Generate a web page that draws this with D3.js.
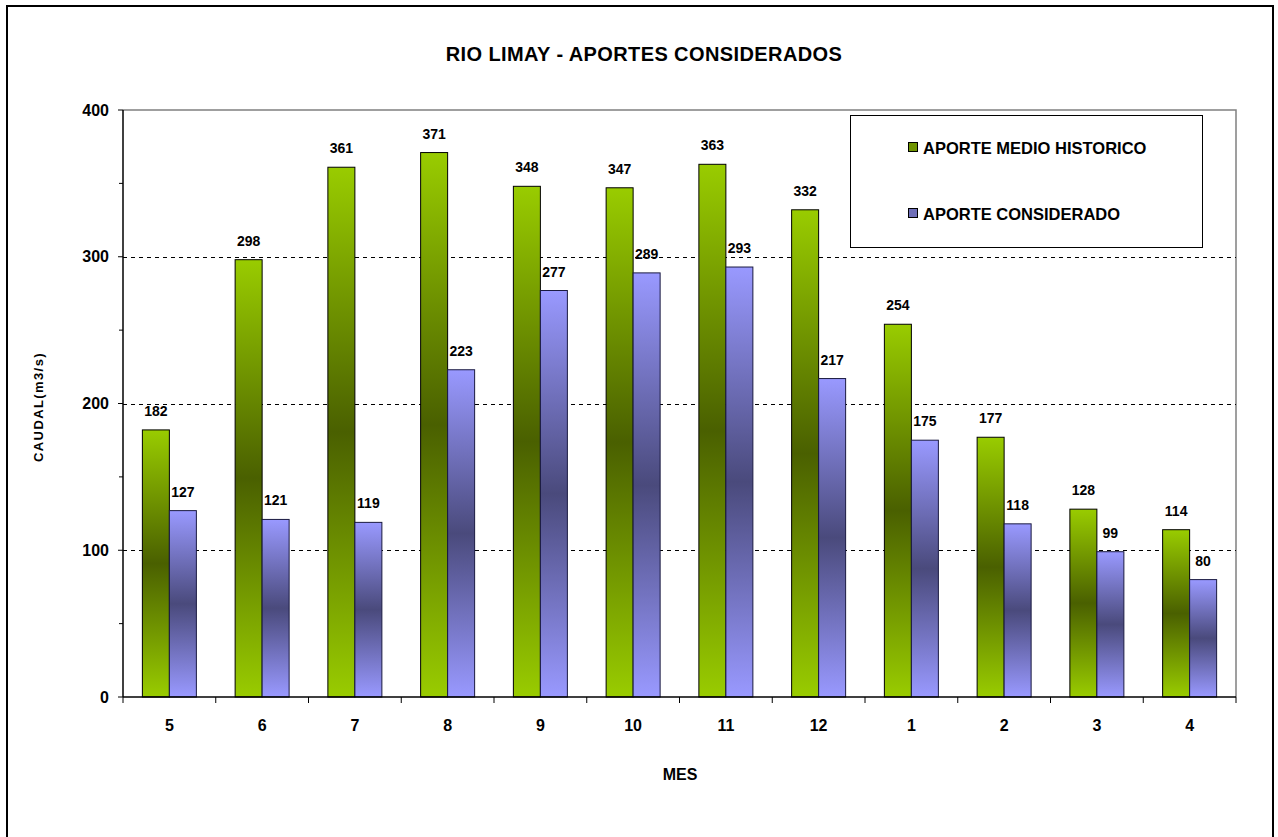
<!DOCTYPE html>
<html>
<head>
<meta charset="utf-8">
<script src="https://cdn.jsdelivr.net/npm/d3@7"></script>
<style>
  html, body { margin: 0; padding: 0; background: #fff; }
  svg { display: block; font-family: "Liberation Sans", Arial, sans-serif; }
</style>
</head>
<body>
<svg id="chart" width="1278" height="837"></svg>
<script>
// Months of the hydrological year (May to April)
const months = ["5", "6", "7", "8", "9", "10", "11", "12", "1", "2", "3", "4"];
// Mean historical inflow (m3/s)
const aporteMedioHistorico = [182, 298, 361, 371, 348, 347, 363, 332, 254, 177, 128, 114];
// Inflow considered (m3/s)
const aporteConsiderado = [127, 121, 119, 223, 277, 289, 293, 217, 175, 118, 99, 80];
const yTicks = [0, 100, 200, 300, 400];
const yMinorTicks = [50, 150, 250, 350];
const seriesNames = ["APORTE MEDIO HISTORICO", "APORTE CONSIDERADO"];

const svg = d3.select("#chart");

// Outer frame
svg.append("rect").attr("x", 7).attr("y", 6).attr("width", 1266).attr("height", 840)
  .attr("fill", "#fff").attr("stroke", "#000").attr("stroke-width", 2);

const plot = { left: 123, right: 1236, top: 110, bottom: 697 };

const x = d3.scaleBand().domain(months).range([plot.left, plot.right]).paddingInner(0).paddingOuter(0);
const y = d3.scaleLinear().domain([0, 400]).range([plot.bottom, plot.top]);

// Gradients: light at both ends, dark in the middle
const defs = svg.append("defs");
function grad(id, light, dark) {
  const g = defs.append("linearGradient").attr("id", id)
    .attr("x1", 0).attr("y1", 0).attr("x2", 0).attr("y2", 1);
  g.append("stop").attr("offset", "0%").attr("stop-color", light);
  g.append("stop").attr("offset", "50%").attr("stop-color", dark);
  g.append("stop").attr("offset", "100%").attr("stop-color", light);
}
grad("gGreen", "#99cc00", "#4a6000");
grad("gBlue", "#9999ff", "#4a4a7c");

// Plot area border (top and right, grey)
svg.append("path")
  .attr("d", `M${plot.left},${plot.top}H${plot.right}V${plot.bottom}`)
  .attr("fill", "none").attr("stroke", "#808080").attr("stroke-width", 1.5);

// Dashed gridlines
svg.append("g").selectAll("line").data(yTicks.filter(d => d > 0 && d < 400)).join("line")
  .attr("x1", plot.left).attr("x2", plot.right)
  .attr("y1", d => Math.round(y(d)) + 0.5).attr("y2", d => Math.round(y(d)) + 0.5)
  .attr("stroke", "#000").attr("stroke-width", 1).attr("stroke-dasharray", "4,4");

// Bars
const barW = 27;
const groupOffset = (x.bandwidth() - 2 * barW) / 2;
const series = [
  { name: seriesNames[0], values: aporteMedioHistorico, fill: "url(#gGreen)", stroke: "#000", swatch: "#6f9400" },
  { name: seriesNames[1], values: aporteConsiderado, fill: "url(#gBlue)", stroke: "#1a1a40", swatch: "#6f6fb8" }
];
series.forEach((s, si) => {
  const g = svg.append("g");
  g.selectAll("rect").data(s.values).join("rect")
    .attr("x", (d, i) => x(months[i]) + groupOffset + si * barW)
    .attr("y", d => y(d))
    .attr("width", barW)
    .attr("height", d => y(0) - y(d))
    .attr("fill", s.fill)
    .attr("stroke", s.stroke).attr("stroke-width", 1);
  g.selectAll("text").data(s.values).join("text")
    .attr("x", (d, i) => x(months[i]) + groupOffset + si * barW + barW / 2)
    .attr("y", d => y(d) - 14)
    .attr("text-anchor", "middle")
    .attr("font-size", 14).attr("font-weight", "bold").attr("fill", "#000")
    .text(d => d);
});

// Y axis
const yAxis = svg.append("g");
yAxis.append("line").attr("x1", plot.left).attr("x2", plot.left)
  .attr("y1", plot.top).attr("y2", plot.bottom).attr("stroke", "#000").attr("stroke-width", 1.5);
yAxis.selectAll("line.maj").data(yTicks).join("line").attr("class", "maj")
  .attr("x1", plot.left - 5).attr("x2", plot.left)
  .attr("y1", d => y(d)).attr("y2", d => y(d)).attr("stroke", "#000");
yAxis.selectAll("line.min").data(yMinorTicks).join("line").attr("class", "min")
  .attr("x1", plot.left - 4).attr("x2", plot.left)
  .attr("y1", d => y(d)).attr("y2", d => y(d)).attr("stroke", "#000");
yAxis.selectAll("text").data(yTicks).join("text")
  .attr("x", plot.left - 14).attr("y", d => y(d)).attr("dy", "0.35em")
  .attr("text-anchor", "end").attr("font-size", 16).attr("font-weight", "bold")
  .text(d => d);

// X axis
const xAxis = svg.append("g");
xAxis.append("line").attr("x1", plot.left).attr("x2", plot.right)
  .attr("y1", plot.bottom).attr("y2", plot.bottom).attr("stroke", "#000").attr("stroke-width", 1.5);
const boundaries = months.map(m => x(m)).concat([plot.right]);
xAxis.selectAll("line.t").data(boundaries).join("line").attr("class", "t")
  .attr("x1", d => d).attr("x2", d => d)
  .attr("y1", plot.bottom).attr("y2", plot.bottom + 6).attr("stroke", "#000");
xAxis.selectAll("text").data(months).join("text")
  .attr("x", d => x(d) + x.bandwidth() / 2).attr("y", 731)
  .attr("text-anchor", "middle").attr("font-size", 16).attr("font-weight", "bold")
  .text(d => d);

// Titles
svg.append("text").attr("x", 644).attr("y", 61).attr("text-anchor", "middle")
  .attr("font-size", 20).attr("font-weight", "bold").attr("letter-spacing", 0.4)
  .text("RIO LIMAY - APORTES CONSIDERADOS");
svg.append("text").attr("x", 680).attr("y", 780).attr("text-anchor", "middle")
  .attr("font-size", 16).attr("font-weight", "bold")
  .text("MES");
svg.append("text").attr("transform", "translate(43,407) rotate(-90)").attr("text-anchor", "middle")
  .attr("font-size", 13).attr("font-weight", "bold").attr("letter-spacing", 1.4)
  .text("CAUDAL(m3/s)");

// Legend
const lg = svg.append("g");
lg.append("rect").attr("x", 850.5).attr("y", 115.5).attr("width", 352).attr("height", 132)
  .attr("fill", "#fff").attr("stroke", "#000").attr("stroke-width", 1);
const legendY = [148, 214];
series.forEach((s, i) => {
  lg.append("rect").attr("x", 908.5).attr("y", legendY[i] - 5.5).attr("width", 9).attr("height", 9)
    .attr("fill", s.swatch).attr("stroke", "#000").attr("stroke-width", 1);
  lg.append("text").attr("x", 923).attr("y", legendY[i]).attr("dy", "0.35em")
    .attr("font-size", 16.5).attr("font-weight", "bold").text(s.name);
});
</script>
</body>
</html>
